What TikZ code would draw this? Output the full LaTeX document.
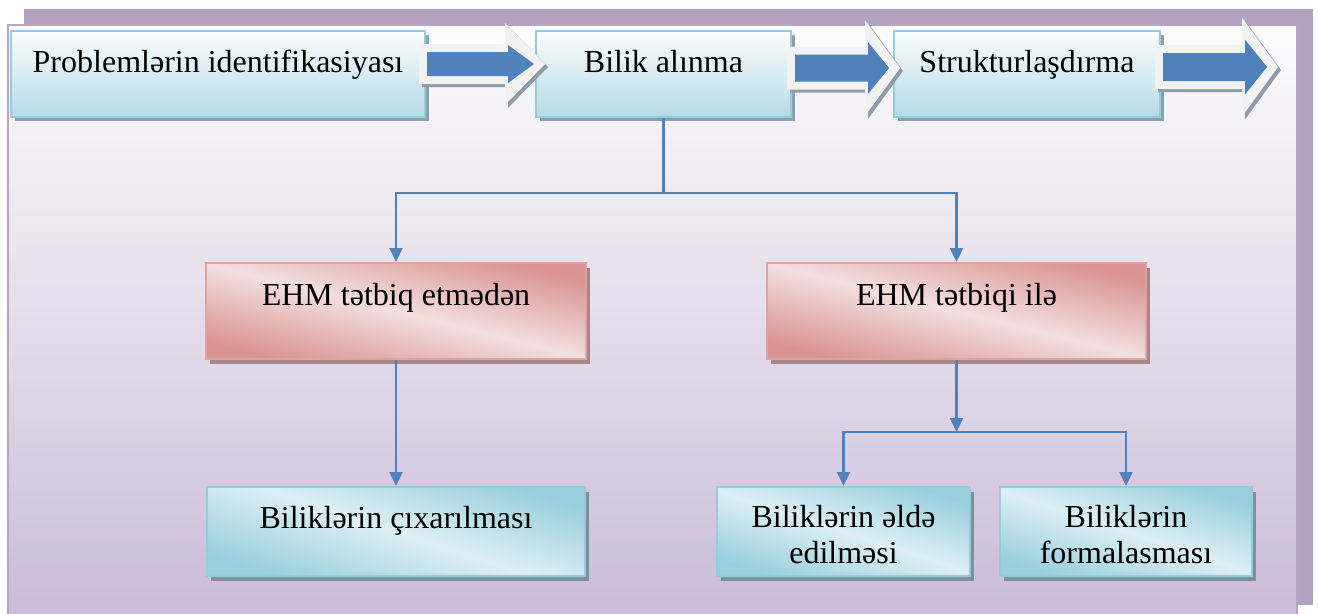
\documentclass[tikz,border=0pt]{standalone}
\usepackage{fontspec}
\setmainfont{Liberation Serif}
\usetikzlibrary{arrows.meta,shadows}

\definecolor{frameshadow}{HTML}{B2A2C0}
\definecolor{panelline}{HTML}{B5A4C8}
\definecolor{paneltop}{HTML}{FCFCFD}
\definecolor{panelmid}{HTML}{E9E3EF}
\definecolor{panelbot}{HTML}{CBBCD8}
\definecolor{linkblue}{HTML}{4F81BD}
\definecolor{cyanedge}{HTML}{93CDDD}
\definecolor{cyantop}{HTML}{FAFCFD}
\definecolor{cyanmid}{HTML}{E3F1F5}
\definecolor{cyanbot}{HTML}{B5DBE6}
\definecolor{cyanlight}{HTML}{DDEFF4}
\definecolor{cyandark}{HTML}{99CFDD}
\definecolor{cyanshadow}{HTML}{8BA1AC}
\definecolor{rosedge}{HTML}{DFA3A2}
\definecolor{roselight}{HTML}{F3DFDF}
\definecolor{rosedark}{HTML}{D99391}
\definecolor{roseshadow}{HTML}{A8858A}
\definecolor{arrowrim}{HTML}{F2F2F2}
\definecolor{arrowshade}{HTML}{8F9BA8}

% block arrow: #1 shaft left, #2 head base, #3 tip, #4 axis y,
% #5 shaft half-height, #6 head half-height
\newcommand{\blockarrow}[6]{%
  \fill[arrowshade, shift={(3,3)}]
    ({#1},{#4-#5}) -- ({#2},{#4-#5}) -- ({#2},{#4-#6}) -- ({#3},{#4})
    -- ({#2},{#4+#6}) -- ({#2},{#4+#5}) -- ({#1},{#4+#5}) -- cycle;
  \fill[arrowrim]
    ({#1},{#4-#5}) -- ({#2},{#4-#5}) -- ({#2},{#4-#6}) -- ({#3},{#4})
    -- ({#2},{#4+#6}) -- ({#2},{#4+#5}) -- ({#1},{#4+#5}) -- cycle;
  \fill[linkblue]
    ({#1+8},{#4-#5+8}) -- ({#2+3},{#4-#5+8}) -- ({#2+3},{#4-#6+22}) -- ({#3-11},{#4})
    -- ({#2+3},{#4+#6-22}) -- ({#2+3},{#4+#5-8}) -- ({#1+8},{#4+#5-8}) -- cycle;
}

\begin{document}
\begin{tikzpicture}[x=1pt,y=-1pt,
  every node/.style={font=\fontsize{32}{36}\selectfont, inner sep=0pt, align=center},
  stagebox/.style={draw=cyanedge, line width=2pt,
    top color=cyantop, middle color=cyanmid, bottom color=cyanbot,
    drop shadow={shadow xshift=4pt, shadow yshift=-4pt, fill=cyanshadow, opacity=1},
    minimum height=86pt, text height=41pt, text depth=45pt},
  modebox/.style={draw=rosedge, line width=2pt,
    top color=rosedark, bottom color=rosedark, middle color=roselight, shading angle=-14,
    drop shadow={shadow xshift=4pt, shadow yshift=-5pt, fill=roseshadow, opacity=1},
    minimum height=96pt, text height=42pt, text depth=54pt},
  resultbox/.style={draw=cyanedge, line width=2pt,
    top color=cyandark, bottom color=cyandark, middle color=cyanlight, shading angle=-18,
    drop shadow={shadow xshift=4pt, shadow yshift=-5pt, fill=cyanshadow!90!black, opacity=1},
    minimum height=89pt},
  oneline/.style={text height=41pt, text depth=48pt},
  twoline/.style={text height=76pt, text depth=13pt},
  link/.style={draw=linkblue, line width=2.2pt},
  linktip/.style={link, -{Triangle[length=14pt,width=13pt]}}
]
\useasboundingbox (0,0) rectangle (1319,613);

% backdrop: offset frame and the graded panel
\fill[frameshadow] (24,9) rectangle (1313,605);
\shade[top color=paneltop, middle color=panelmid, bottom color=panelbot]
  (8,25) rectangle (1297,616);
\draw[panelline, line width=1.5pt] (1297,616) -- (1297,25) -- (8,25) -- (8,616);

% process stages
\node[stagebox, minimum width=414pt] (ident) at (218,74) {Problemlərin identifikasiyası};
\node[stagebox, minimum width=255pt] (acq) at (663.5,74) {Bilik alınma};
\node[stagebox, minimum width=266pt] (struct) at (1027,74) {Strukturlaşdırma};

% branching modes
\node[modebox, minimum width=380pt] (nocomp) at (396,311) {EHM tətbiq etmədən};
\node[modebox, minimum width=379pt] (withcomp) at (956.5,311) {EHM tətbiqi ilə};

% results
\node[resultbox, oneline, minimum width=378pt] (extract) at (396,531.5) {Biliklərin çıxarılması};
\node[resultbox, twoline, minimum width=253pt] (obtain) at (843.5,531.5) {Biliklərin əldə\\edilməsi};
\node[resultbox, twoline, minimum width=252pt] (formal) at (1126,531.5) {Biliklərin\\formalasması};

% connectors
\coordinate (split) at (663.5,193);
\coordinate (split2) at (956.5,432);
\draw[link] (acq.south) -- (split);
\draw[linktip] (split) -| (nocomp.north);
\draw[linktip] (split) -| (withcomp.north);
\draw[linktip] (nocomp.south) -- (extract.north);
\draw[linktip] (withcomp.south) -- (split2);
\draw[linktip] (split2) -| (obtain.north);
\draw[linktip] (split2) -| (formal.north);

% block arrows between stages
\blockarrow{419}{505}{545}{64}{20}{41}
\blockarrow{787}{865}{900}{68}{21.5}{48}
\blockarrow{1155}{1242}{1278}{67}{22}{49.5}
\end{tikzpicture}
\end{document}
